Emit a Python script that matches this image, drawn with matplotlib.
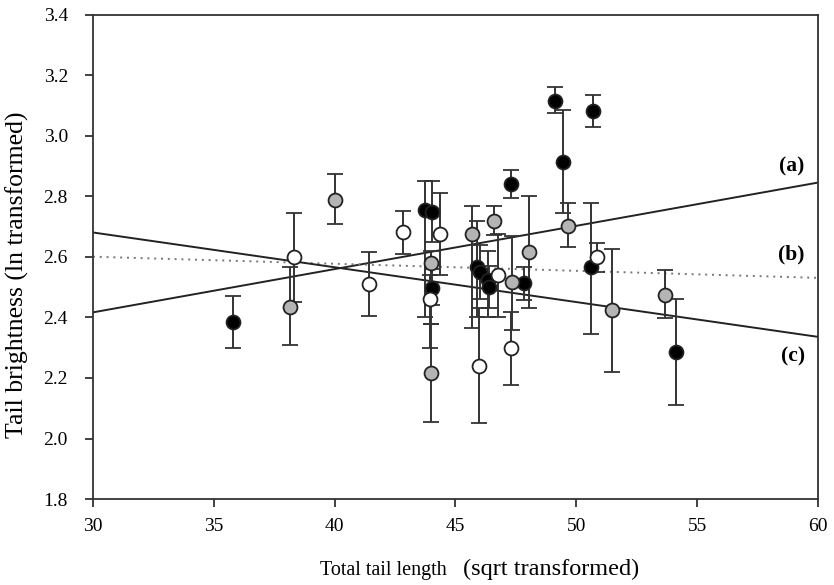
import numpy as np
import matplotlib.pyplot as plt

plt.rcParams['font.family'] = ['Liberation Serif', 'DejaVu Serif']

# black circles: x, y, lower error end, upper error end
black_x = [35.79, 43.74, 44.03, 44.03, 45.89, 46.0, 46.34, 46.4, 47.29, 47.83, 49.11, 49.45, 50.69, 50.6, 54.12]
black_y = [2.385, 2.755, 2.749, 2.498, 2.567, 2.55, 2.524, 2.50, 2.84, 2.514, 3.116, 2.914, 3.083, 2.567, 2.286]
black_lo = [2.30, 2.40, 2.65, 2.44, 2.40, 2.46, 2.40, 2.43, 2.795, 2.458, 3.076, 2.745, 3.03, 2.345, 2.11]
black_hi = [2.471, 2.85, 2.85, 2.56, 2.72, 2.64, 2.62, 2.57, 2.888, 2.567, 3.162, 3.086, 3.136, 2.78, 2.461]

# grey circles
grey_x = [38.15, 40.01, 43.98, 43.98, 45.68, 46.59, 47.33, 48.04, 49.65, 51.47, 53.67]
grey_y = [2.435, 2.79, 2.58, 2.217, 2.676, 2.72, 2.518, 2.617, 2.703, 2.425, 2.474]
grey_lo = [2.31, 2.709, 2.38, 2.055, 2.365, 2.673, 2.36, 2.43, 2.633, 2.22, 2.398]
grey_hi = [2.567, 2.874, 2.62, 2.38, 2.77, 2.77, 2.67, 2.80, 2.78, 2.626, 2.557]

# white circles
white_x = [38.32, 41.42, 42.83, 44.36, 43.94, 45.97, 46.76, 47.29, 50.85]
white_y = [2.60, 2.511, 2.683, 2.676, 2.461, 2.24, 2.54, 2.30, 2.60]
white_lo = [2.45, 2.405, 2.61, 2.54, 2.30, 2.05, 2.40, 2.177, 2.55]
white_hi = [2.745, 2.617, 2.752, 2.81, 2.54, 2.43, 2.676, 2.418, 2.646]

# regression lines (endpoints at x = 30 and 60)
fit_x = [30, 60]
fit_a = [2.417, 2.846]
fit_b = [2.601, 2.531]
fit_c = [2.681, 2.336]

fig = plt.figure(figsize=(8.34, 5.85), dpi=100)
ax = fig.add_axes([0.1115, 0.147, 0.8693, 0.8274])

ax.plot(fit_x, fit_a, color='#222222', lw=1.4, zorder=1)
ax.plot(fit_x, fit_b, color='#777777', lw=1.4, ls=(0, (1, 2.5)), zorder=1)
ax.plot(fit_x, fit_c, color='#222222', lw=1.4, zorder=1)

groups = [
    (black_x, black_y, black_lo, black_hi, 'black'),
    (grey_x, grey_y, grey_lo, grey_hi, '#b4b4b4'),
    (white_x, white_y, white_lo, white_hi, 'white'),
]
for gx, gy, lo, hi, fc in groups:
    gx = np.array(gx)
    gy = np.array(gy)
    yerr = [gy - np.array(lo), np.array(hi) - gy]
    ax.errorbar(gx, gy, yerr=yerr, fmt='o', ms=10, mfc=fc, mec='#222222',
                mew=1.3, ecolor='#333333', elinewidth=1.4, capsize=6,
                capthick=1.4, zorder=3)

for lab, yv in [('(a)', 2.90), ('(b)', 2.607), ('(c)', 2.27)]:
    ax.text(59.45, yv, lab, fontsize=15.5, fontweight='bold', ha='right', va='center')

ax.set_xlim(30, 60)
ax.set_ylim(1.8, 3.4)
ax.set_xticks(np.arange(30, 61, 5))
ax.set_yticks(np.arange(1.8, 3.41, 0.2))
ax.yaxis.set_major_formatter(plt.FormatStrFormatter('%.1f'))
ax.tick_params(direction='out', length=6, width=1.3, labelsize=14, color='#333333')
ax.tick_params(axis='x', pad=8)
ax.tick_params(axis='y', pad=12)
for s in ax.spines.values():
    s.set_linewidth(1.3)
    s.set_color('#333333')

# axis titles placed like the original (not centred on the axes)
fig.text(320 / 834, 1 - 575 / 585, 'Total tail length', fontsize=14.5, ha='left', va='baseline')
fig.text(463 / 834, 1 - 575 / 585, '(sqrt transformed)', fontsize=17.5, ha='left', va='baseline')
fig.text(17 / 834, 1 - 275 / 585, 'Tail brightness (ln transformed)', fontsize=18.5,
         rotation=90, ha='center', va='center')

fig.savefig('out.png', dpi=100)
